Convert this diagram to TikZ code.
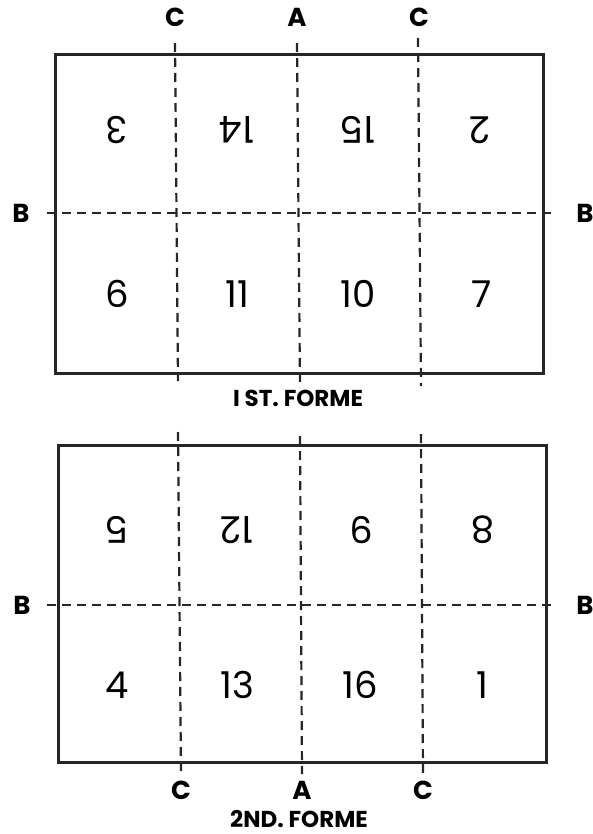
\documentclass[tikz,border=0pt]{standalone}
\usepackage{fontspec}
\setmainfont{Poppins}
\usetikzlibrary{positioning}

\begin{document}
\begin{tikzpicture}[
        x=1pt, y=-1pt,
        sheet/.style={draw=black!85, line width=3pt},
        fold/.style={draw=black!85, line width=2.2pt, dash pattern=on 9pt off 6pt},
        pagenum/.style={inner sep=0pt, font=\fontsize{37}{37}\selectfont},
        flipped/.style={pagenum, rotate=180},
        foldname/.style={inner sep=0pt, font=\bfseries\fontsize{26}{26}\selectfont},
        formename/.style={inner sep=0pt, font=\bfseries\fontsize{23}{23}\selectfont}
    ]
    \useasboundingbox (0,0) rectangle (593,834);

    % 1st forme
    \draw[sheet] (55,55) rectangle (543,373);
    \node[foldname] (ct1) at (175,17) {C};
    \node[foldname] (at1) at (297,17) {A};
    \node[foldname] (ct2) at (419,17) {C};
    \node[foldname] (bl1) at (21,213) {B};
    \node[foldname] (br1) at (585,213) {B};
    \coordinate (c1s) at (175,43);  \coordinate (c1e) at (178,381);
    \coordinate (a1s) at (297,43);  \coordinate (a1e) at (300,388);
    \coordinate (c2s) at (418,38);  \coordinate (c2e) at (421,386);
    \coordinate (b1s) at (47,213);  \coordinate (b1e) at (556,213);
    \draw[fold] (c1s) -- (c1e);
    \draw[fold] (a1s) -- (a1e);
    \draw[fold] (c2s) -- (c2e);
    \draw[fold] (b1s) -- (b1e);

    \node[flipped] (p3)  at (117,130) {3};
    \node[flipped] (p14) at (237,130) {14};
    \node[flipped] (p15) at (358,130) {15};
    \node[flipped] (p2)  at (480,130) {2};
    \node[pagenum] (p6)  at (117,294) {6};
    \node[pagenum] (p11) at (237,294) {11};
    \node[pagenum] (p10) at (358,294) {10};
    \node[pagenum] (p7)  at (482,294) {7};
    \node[formename] (forme1) at (298,398) {I ST. FORME};

    % 2nd forme
    \draw[sheet] (58,445) rectangle (546,762);
    \node[foldname] (bl2) at (22,605) {B};
    \node[foldname] (br2) at (585,605) {B};
    \node[foldname] (cb1) at (181,790) {C};
    \node[foldname] (ab1) at (302,790) {A};
    \node[foldname] (cb2) at (423,790) {C};
    \coordinate (c3s) at (178,432);  \coordinate (c3e) at (181,774);
    \coordinate (a2s) at (300,436);  \coordinate (a2e) at (302,774);
    \coordinate (c4s) at (421,434);  \coordinate (c4e) at (423,774);
    \coordinate (b2s) at (47,605);   \coordinate (b2e) at (556,605);
    \draw[fold] (c3s) -- (c3e);
    \draw[fold] (a2s) -- (a2e);
    \draw[fold] (c4s) -- (c4e);
    \draw[fold] (b2s) -- (b2e);

    \node[flipped] (p5)  at (117,530) {5};
    \node[flipped] (p12) at (237,530) {12};
    \node[flipped] (p9)  at (362,530) {9};
    \node[flipped] (p8)  at (483,530) {8};
    \node[pagenum] (p4)  at (117,685) {4};
    \node[pagenum] (p13) at (237,685) {13};
    \node[pagenum] (p16) at (360,685) {16};
    \node[pagenum] (p1)  at (482,685) {1};
    \node[formename] (forme2) at (299,819) {2ND. FORME};

\end{tikzpicture}
\end{document}
